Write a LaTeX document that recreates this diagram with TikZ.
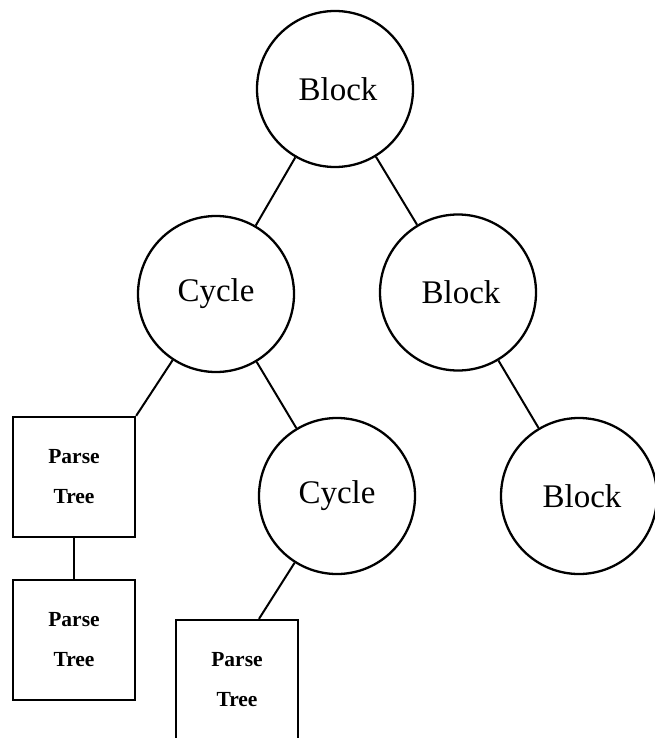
\documentclass[tikz,border=0pt]{standalone}
\usepackage{fontspec}
\setmainfont{Liberation Serif}
\begin{document}
\begin{tikzpicture}[x=1pt,y=-1pt,
  treecircle/.style={draw, circle, line width=2.3pt, minimum size=156pt, inner sep=0pt,
    font=\fontsize{33}{38}\selectfont},
  treebox/.style={draw, rectangle, line width=2.3pt, minimum width=122pt, minimum height=120pt,
    inner sep=0pt, align=center, font=\fontsize{21.5}{40}\selectfont\bfseries},
  edge/.style={line width=2pt}]
\useasboundingbox (0,0) rectangle (655,738);

% circular nodes
\node[treecircle] (root)   at (335,89)    {\hspace{6pt}Block};
\node[treecircle] (cycA)   at (216,294)   {Cycle};
\node[treecircle] (blkA)   at (458,292.5) {\hspace{6pt}Block};
\node[treecircle] (cycB)   at (337,496)   {Cycle};
\node[treecircle] (blkB)   at (579,496)   {\hspace{6pt}Block};

% parse tree boxes
\node[treebox] (ptA) at (74,477)  {Parse\\Tree};
\node[treebox] (ptB) at (74,640)  {Parse\\Tree};
\node[treebox] (ptC) at (237,680) {Parse\\Tree};

% connectors
\draw[edge] (root) -- (cycA);
\draw[edge] (root) -- (blkA);
\draw[edge] (cycA) -- (ptA.north east);
\draw[edge] (cycA) -- (cycB);
\draw[edge] (blkA) -- (blkB);
\draw[edge] (ptA) -- (ptB);
\draw[edge] (cycB) -- ([xshift=22pt]ptC.north);
\end{tikzpicture}
\end{document}
